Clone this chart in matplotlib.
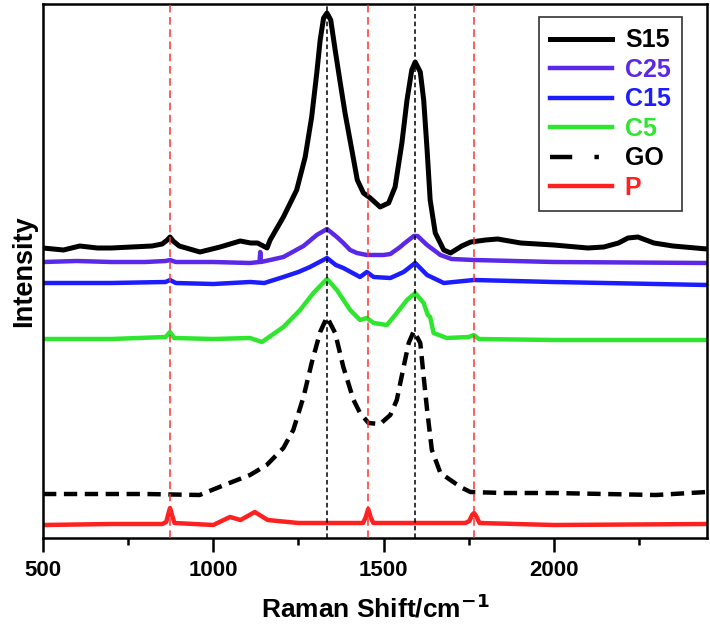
"""
Raman spectra of the S15 / C25 / C15 / C5 / GO / P samples (stacked, offset).
"""

import matplotlib
matplotlib.use("Agg")
import matplotlib.pyplot as plt
from matplotlib.lines import Line2D

plt.rcParams["font.family"] = ["Liberation Sans", "DejaVu Sans"]
plt.rcParams["font.weight"] = "bold"
plt.rcParams["mathtext.default"] = "bf"

# wavenumber (cm-1) / intensity (a.u., already offset)
s15_x = [500, 560, 608, 660, 700, 760, 820, 850, 865, 873, 882, 900, 961, 1020, 1079,
         1110, 1130, 1158, 1167, 1206, 1245, 1270, 1289, 1304, 1314, 1324, 1334, 1345,
         1358, 1373, 1387, 1407, 1423, 1441, 1461, 1490, 1515, 1534, 1554, 1569, 1583,
         1593, 1608, 1618, 1628, 1637, 1652, 1677, 1697, 1730, 1756, 1800, 1835, 1903,
         2000, 2100, 2147, 2190, 2218, 2247, 2294, 2350, 2450]
s15_y = [290, 288, 292, 290, 290, 291, 292, 294, 298, 301, 297, 292, 286, 291, 297,
         295, 295, 290, 298, 321, 348, 381, 421, 465, 498, 520, 525, 518,
         488, 455, 425, 388, 358, 345, 340, 331, 335, 351, 395, 438, 468,
         476, 466, 438, 388, 338, 305, 288, 285, 292, 296, 298, 299, 295,
         293, 290, 291, 295, 300, 301, 295, 292, 289]

c25_x = [500, 600, 700, 800, 860, 873, 890, 1000, 1108, 1136, 1138, 1140, 1167, 1206,
         1265, 1304, 1334, 1363, 1382, 1402, 1422, 1451, 1500, 1520, 1549, 1559, 1589,
         1600, 1628, 1667, 1700, 1765, 2000, 2450]
c25_y = [276, 277, 276, 276, 277, 278, 276, 276, 275, 276, 286, 276, 278, 281,
         292, 303, 309, 301, 295, 288, 285, 283, 283, 284, 291, 294, 302,
         302, 293, 283, 279, 278, 276, 275]

c15_x = [500, 700, 860, 873, 890, 1000, 1108, 1150, 1206, 1250, 1284, 1334, 1360, 1382,
         1431, 1451, 1471, 1520, 1559, 1593, 1628, 1677, 1765, 2000, 2450]
c15_y = [255, 255, 256, 258, 255, 254, 256, 255, 261, 266, 271, 280, 273, 270,
         261, 266, 261, 260, 266, 275, 263, 255, 258, 256, 253]

c5_x = [500, 700, 860, 873, 885, 1000, 1108, 1143, 1206, 1255, 1294, 1334, 1363, 1402,
        1431, 1451, 1471, 1510, 1539, 1569, 1593, 1618, 1630, 1637, 1647, 1686, 1750,
        1765, 1780, 2000, 2450]
c5_y = [199, 199, 201, 206, 200, 199, 200, 196, 211, 228, 245, 259, 248, 228,
        218, 220, 215, 213, 225, 238, 245, 235, 223, 221, 205, 200, 201,
        203, 199, 198, 198]

go_x = [500, 800, 960, 1040, 1108, 1157, 1206, 1235, 1265, 1289, 1314, 1334, 1358,
        1382, 1412, 1431, 1456, 1490, 1520, 1539, 1559, 1574, 1589, 1608, 1618, 1628,
        1642, 1667, 1726, 1755, 1853, 2000, 2300, 2450]
go_y = [44, 44, 43, 54, 63, 73, 90, 108, 141, 175, 206, 221, 205,
        171, 138, 125, 115, 114, 123, 138, 171, 195, 207, 195, 161, 128,
        88, 65, 51, 46, 45, 45, 43, 46]

p_x = [500, 700, 850, 862, 868, 873, 878, 886, 1000, 1049, 1080, 1122, 1160, 1250,
       1300, 1440, 1448, 1455, 1462, 1470, 1740, 1752, 1760, 1766, 1772, 1782, 2000, 2450]
p_y = [13, 14, 14, 16, 24, 30, 24, 15, 13, 21, 18, 26, 18, 15,
       15, 15, 21, 29, 21, 15, 15, 17, 23, 25, 22, 15, 13, 14]

red_marks = [873, 1455, 1765]
black_marks = [1335, 1592]

COL_S15 = "black"
COL_C25 = "#5a28e6"
COL_C15 = "#1c1cff"
COL_C5 = "#2ee62e"
COL_P = "#ff2020"

fig = plt.figure(figsize=(7.1, 6.24), dpi=100)
ax = fig.add_axes([43 / 710, 86 / 624, 664 / 710, 534 / 624])

lw = 3.2
ax.plot(s15_x, s15_y, color=COL_S15, lw=3.6, label="S15")
ax.plot(c25_x, c25_y, color=COL_C25, lw=lw, label="C25")
ax.plot(c15_x, c15_y, color=COL_C15, lw=lw, label="C15")
ax.plot(c5_x, c5_y, color=COL_C5, lw=lw, label="C5")
ax.plot(go_x, go_y, color="black", lw=lw, dashes=(3.0, 1.7), label="GO")
ax.plot(p_x, p_y, color=COL_P, lw=lw, label="P")

for xv in red_marks:
    ax.axvline(xv, color="#ff3030", lw=1.1, ls=(0, (5, 3)), zorder=5)
for xv in black_marks:
    ax.axvline(xv, color="black", lw=1.1, ls=(0, (3, 2)), zorder=5)

ax.set_xlim(500, 2450)
ax.set_ylim(0, 534)
ax.set_xticks([500, 1000, 1500, 2000])
ax.set_xticks([750, 1250, 1750, 2250], minor=True)
ax.set_yticks([])
ax.tick_params(axis="x", which="major", length=10, width=1.8, labelsize=16, pad=6)
ax.tick_params(axis="x", which="minor", length=5, width=1.8)
for lab in ax.get_xticklabels():
    lab.set_fontweight("bold")
for sp in ax.spines.values():
    sp.set_linewidth(1.8)

ax.set_xlabel("Raman Shift/cm$^{-1}$", fontsize=19, fontweight="bold", labelpad=9)
ax.set_ylabel("Intensity", fontsize=19.5, fontweight="bold", labelpad=4)

handles = [
    Line2D([], [], color=COL_S15, lw=3.6),
    Line2D([], [], color=COL_C25, lw=lw),
    Line2D([], [], color=COL_C15, lw=lw),
    Line2D([], [], color=COL_C5, lw=lw),
    Line2D([], [], color="black", lw=lw, dashes=(5, 5, 1, 5)),
    Line2D([], [], color=COL_P, lw=lw),
]
labels = ["S15", "C25", "C15", "C5", "GO", "P"]
leg = ax.legend(handles, labels, loc="upper right",
                bbox_to_anchor=(682 / 710, 1 - 17 / 624), bbox_transform=fig.transFigure,
                fontsize=18, frameon=True, fancybox=False, edgecolor="black",
                handlelength=2.5, handletextpad=0.5, labelspacing=0.22,
                borderpad=0.45, borderaxespad=0)
leg.get_frame().set_linewidth(1.2)
for txt, col in zip(leg.get_texts(), [COL_S15, COL_C25, COL_C15, COL_C5, "black", COL_P]):
    txt.set_color(col)
    txt.set_fontweight("bold")

plt.savefig("out.png", dpi=100)
